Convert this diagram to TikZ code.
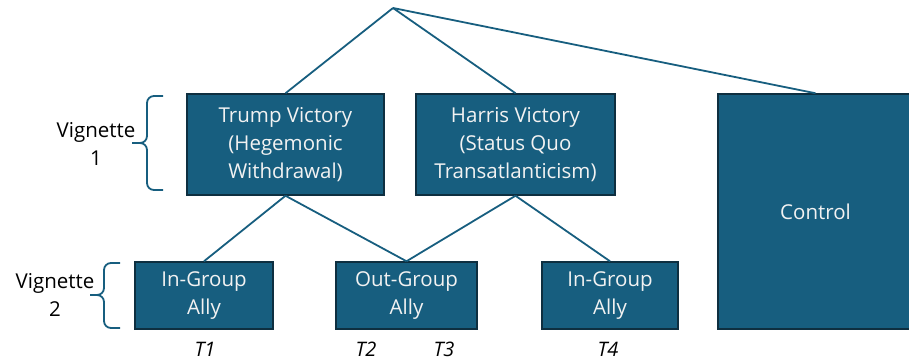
\documentclass[tikz,border=0pt]{standalone}
\usepackage{fontspec}
\setmainfont{Open Sans}
\definecolor{boxblue}{HTML}{175E7F}
\definecolor{boxedge}{HTML}{0E2F40}
\definecolor{txtwhite}{HTML}{F2F2F2}
\tikzset{
  tbox/.style={draw=boxedge, line width=1.5pt, fill=boxblue, text=txtwhite, align=center,
    font=\fontsize{20.5}{28}\selectfont, inner sep=0pt},
  conn/.style={draw=boxblue, line width=1.8pt},
  brc/.style={draw=boxblue, line width=1.8pt, rounded corners=7pt},
  lbl/.style={align=center, font=\fontsize{20.5}{28}\selectfont, text=black},
  tlbl/.style={font=\fontsize{20}{22}\selectfont\itshape, text=black}
}
\begin{document}
\begin{tikzpicture}[x=1pt,y=-1pt]
\useasboundingbox (0,0) rectangle (909,362);
\coordinate (top) at (393,8);
\node[tbox, minimum width=197pt, minimum height=101pt] (trump) at (285.5,144.5) {Trump Victory\\(Hegemonic\\Withdrawal)};
\node[tbox, minimum width=199pt, minimum height=101pt] (harris) at (515.5,144.5) {Harris Victory\\(Status Quo\\Transatlanticism)};
\node[tbox, minimum width=195pt, minimum height=235pt] (control) at (815.5,211.5) {Control};
\node[tbox, minimum width=138pt, minimum height=67pt] (in1) at (204,295.5) {In-Group\\Ally};
\node[tbox, minimum width=141pt, minimum height=67pt] (out) at (406.5,295.5) {Out-Group\\Ally};
\node[tbox, minimum width=136pt, minimum height=67pt] (in2) at (610,295.5) {In-Group\\Ally};

\draw[conn] (top) -- (trump.north);
\draw[conn] (top) -- (harris.north);
\draw[conn] (top) -- (control.north);
\draw[conn] (trump.south) -- (in1.north);
\draw[conn] (trump.south) -- (out.north);
\draw[conn] (harris.south) -- (out.north);
\draw[conn] (harris.south) -- (in2.north);

% brace 1
\coordinate (b1top) at (163,96);
\coordinate (b1bot) at (163,190);
\coordinate (b1mid) at (147,143);
\coordinate (b1tip) at (132,143);
\draw[brc] (b1top) -| (b1mid) -- (b1tip);
\draw[brc] (b1bot) -| (b1mid) -- (b1tip);
% brace 2
\coordinate (b2top) at (120,263);
\coordinate (b2bot) at (120,328);
\coordinate (b2mid) at (104,295);
\coordinate (b2tip) at (90,295);
\draw[brc] (b2top) -| (b2mid) -- (b2tip);
\draw[brc] (b2bot) -| (b2mid) -- (b2tip);

\node[lbl] (v1) at (96,144) {Vignette\\1};
\node[lbl] (v2) at (55,295) {Vignette\\2};

\node[tlbl] (t1) at (205,349) {T1};
\node[tlbl] (t2) at (366,349) {T2};
\node[tlbl] (t3) at (444,349) {T3};
\node[tlbl] (t4) at (608,349) {T4};
\end{tikzpicture}
\end{document}
